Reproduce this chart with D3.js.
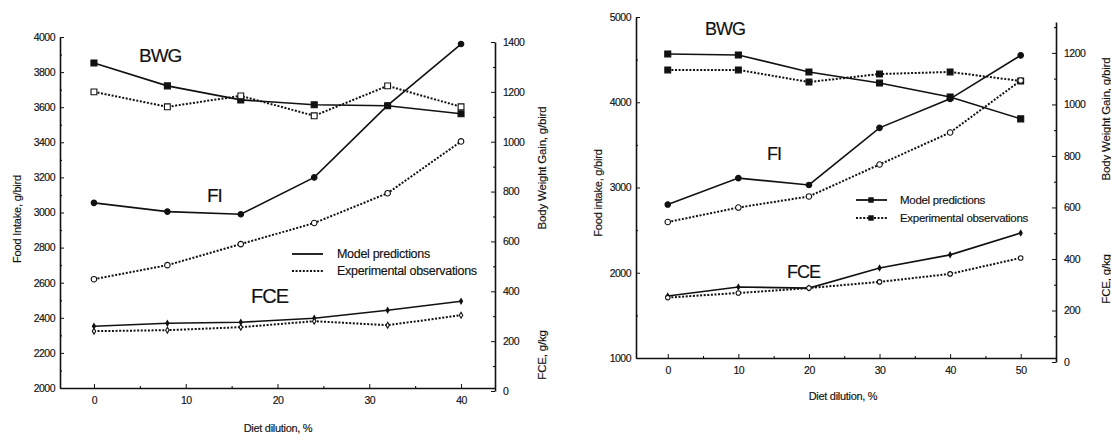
<!DOCTYPE html>
<html>
<head>
<meta charset="utf-8">
<script src="https://cdn.jsdelivr.net/npm/d3@7"></script>
<style>
  body { margin: 0; background: #fff; }
  text { font-family: "Liberation Sans", Arial, sans-serif; fill: #111; stroke: #111; stroke-width: 0.15; }
</style>
</head>
<body>
<div id="chart"></div>
<script>
// left panel: dilution 0-40 %
var dilA = [0, 8, 16, 24, 32, 40];
var bwgModelA = [1316, 1224, 1168, 1148, 1144, 1112];
var bwgExpA = [1200, 1140, 1184, 1104, 1224, 1140];
var fiModelA = [3055, 3005, 2990, 3200, 3610, 3960];
var fiExpA = [2620, 2700, 2820, 2940, 3110, 3405];
var fceModelA = [260, 272, 276, 292, 324, 360];
var fceExpA = [240, 244, 256, 280, 264, 304];

// right panel: dilution 0-50 %
var dilB = [0, 10, 20, 30, 40, 50];
var bwgModelB = [1196, 1192, 1126, 1083, 1029, 944];
var bwgExpB = [1134, 1134, 1087, 1118, 1126, 1091];
var fiModelB = [2800, 3110, 3030, 3700, 4040, 4550];
var fiExpB = [2595, 2765, 2895, 3270, 3645, 4255];
var fceModelB = [256, 291, 287, 365, 416, 501];
var fceExpB = [250, 268, 287, 311, 342, 404];

var xTicksA = [0, 10, 20, 30, 40];
var xTicksB = [0, 10, 20, 30, 40, 50];
var fiTicksA = [2000, 2200, 2400, 2600, 2800, 3000, 3200, 3400, 3600, 3800, 4000];
var fiTicksB = [1000, 2000, 3000, 4000, 5000];
var rightTicksA = [0, 200, 400, 600, 800, 1000, 1200, 1400];
var rightTicksB = [0, 200, 400, 600, 800, 1000, 1200];
var legendLabels = ["Model predictions", "Experimental observations"];

var svg = d3.select('#chart').append('svg')
  .attr('width', 1111)
  .attr('height', 435);

function drawPanel(p) {
  var g = svg.append('g');
  var x = d3.scaleLinear().domain(p.xDomain).range([p.left, p.right]);
  var yL = d3.scaleLinear().domain(p.fiDomain).range(p.fiRange);
  var yR = d3.scaleLinear().domain(p.rDomain).range(p.rRange);

  function minorAxis(axis, ticks) {
    return function(sel) {
      sel.call(axis.tickValues(ticks).tickFormat('').tickSizeInner(-2).tickSizeOuter(0))
        .call(function(s) { s.select('.domain').remove(); });
    };
  }
  function styleAxis(sel) {
    sel.select('.domain').attr('stroke', '#111').attr('stroke-width', 1.6);
    sel.selectAll('.tick line').attr('stroke', '#111').attr('stroke-width', 1);
    sel.selectAll('.tick text').attr('font-size', 10.5).attr('letter-spacing', -0.5)
      .attr('font-family', '"Liberation Sans", Arial, sans-serif').attr('fill', '#111');
  }

  // x axis
  g.append('g').attr('transform', 'translate(0,' + p.fiRange[0] + ')')
    .call(d3.axisBottom(x).tickValues(p.xTicks).tickFormat(d3.format('d'))
      .tickSizeInner(-4).tickSizeOuter(0).tickPadding(p.xPad))
    .call(styleAxis);
  g.append('g').attr('transform', 'translate(0,' + p.fiRange[0] + ')')
    .call(minorAxis(d3.axisBottom(x), p.xMinor));

  // left axis
  g.append('g').attr('transform', 'translate(' + p.left + ',0)')
    .call(d3.axisLeft(yL).tickValues(p.fiTicks).tickFormat(d3.format('d'))
      .tickSizeInner(-4).tickSizeOuter(0).tickPadding(5))
    .call(styleAxis);
  g.append('g').attr('transform', 'translate(' + p.left + ',0)')
    .call(minorAxis(d3.axisLeft(yL), p.fiMinor));

  // right axis
  g.append('g').attr('transform', 'translate(' + p.rightAxis + ',0)')
    .call(d3.axisRight(yR).tickValues(p.rTicks).tickFormat(d3.format('d'))
      .tickSizeInner(-4).tickSizeOuter(0).tickPadding(8))
    .call(styleAxis);
  g.append('g').attr('transform', 'translate(' + p.rightAxis + ',0)')
    .call(minorAxis(d3.axisRight(yR), d3.range(100, p.rDomain[1], 200)));

  var series = [
    { y: yR, v: p.bwgModel, dash: null, sym: d3.symbolSquare, size: 36, fill: '#111' },
    { y: yR, v: p.bwgExp, dash: '2,1.6', sym: d3.symbolSquare, size: 34, fill: p.bwgExpFill },
    { y: yL, v: p.fiModel, dash: null, sym: d3.symbolCircle, size: 24, fill: '#111' },
    { y: yL, v: p.fiExp, dash: '2,1.6', sym: d3.symbolCircle, size: 24, fill: '#fff' },
    { y: yR, v: p.fceModel, dash: null, sym: d3.symbolDiamond, size: 8, fill: '#111' },
    { y: yR, v: p.fceExp, dash: '2,1.6', sym: p.fceExpSym, size: p.fceExpSize, fill: '#fff' }
  ];

  series.forEach(function(s) {
    var pts = p.dil.map(function(d, i) { return [x(d), s.y(s.v[i])]; });
    g.append('path')
      .attr('d', d3.line()(pts))
      .attr('fill', 'none')
      .attr('stroke', '#111')
      .attr('stroke-width', s.dash ? 2 : 1.6)
      .attr('stroke-dasharray', s.dash);
    g.selectAll(null).data(pts).enter().append('path')
      .attr('transform', function(d) { return 'translate(' + d[0] + ',' + d[1] + ')'; })
      .attr('d', d3.symbol().type(s.sym).size(s.size))
      .attr('fill', s.fill)
      .attr('stroke', '#111')
      .attr('stroke-width', 1.1);
  });

  // series names
  p.names.forEach(function(n) {
    g.append('text').attr('x', n.x).attr('y', n.y)
      .attr('font-size', n.size).attr('letter-spacing', -1).text(n.t);
  });

  // legend
  legendLabels.forEach(function(lab, i) {
    var ly = p.legend.y + i * p.legend.dy;
    g.append('line').attr('x1', p.legend.x).attr('x2', p.legend.x + 31)
      .attr('y1', ly).attr('y2', ly)
      .attr('stroke', '#111').attr('stroke-width', i ? 2 : 1.8)
      .attr('stroke-dasharray', i ? '2,1.6' : null);
    if (p.legend.marker) {
      g.append('path').attr('transform', 'translate(' + (p.legend.x + 15) + ',' + ly + ')')
        .attr('d', d3.symbol().type(d3.symbolSquare).size(30)).attr('fill', '#111');
    }
    g.append('text').attr('x', p.legend.x + p.legend.gap).attr('y', ly + 4)
      .attr('font-size', p.legend.size).attr('letter-spacing', -0.3).text(lab);
  });

  // axis titles
  g.append('text').attr('transform', 'translate(' + p.yTitleX + ',' + p.yTitleY + ') rotate(-90)')
    .attr('text-anchor', 'middle').attr('font-size', 11).attr('letter-spacing', -0.2).text(p.yTitle);
  g.append('text').attr('transform', 'translate(' + p.rTitleX + ',' + p.bwgTitleY + ') rotate(-90)')
    .attr('text-anchor', 'middle').attr('font-size', 11.5).attr('letter-spacing', -0.2).text('Body Weight Gain, g/bird');
  g.append('text').attr('transform', 'translate(' + p.rTitleX + ',' + p.fceTitleY + ') rotate(-90)')
    .attr('text-anchor', 'middle').attr('font-size', 11.5).attr('letter-spacing', -0.2).text('FCE, g/kg');
  g.append('text').attr('x', p.xTitleX).attr('y', p.xTitleY)
    .attr('text-anchor', 'middle').attr('font-size', 11).attr('letter-spacing', -0.3).text('Diet dilution, %');
}

drawPanel({
  dil: dilA, bwgModel: bwgModelA, bwgExp: bwgExpA, fiModel: fiModelA, fiExp: fiExpA,
  fceModel: fceModelA, fceExp: fceExpA,
  bwgExpFill: '#fff', fceExpSym: d3.symbolDiamond, fceExpSize: 10,
  xDomain: [-3.7, 43.7], left: 60, right: 495, rightAxis: 495,
  xTicks: xTicksA, xMinor: [5, 15, 25, 35], xPad: 9,
  fiDomain: [2000, 4000], fiRange: [388, 37], fiTicks: fiTicksA,
  fiMinor: d3.range(2100, 4000, 200),
  rDomain: [0, 1400], rRange: [391, 42], rTicks: rightTicksA,
  names: [{ t: 'BWG', x: 139, y: 62, size: 19 }, { t: 'FI', x: 207, y: 202, size: 19 },
          { t: 'FCE', x: 251, y: 303, size: 20 }],
  legend: { x: 292, y: 254, dy: 17, marker: false, gap: 45, size: 12.5 },
  yTitle: 'Food Intake, g/bird', yTitleX: 21, yTitleY: 219,
  rTitleX: 546, bwgTitleY: 168, fceTitleY: 355,
  xTitleX: 278, xTitleY: 432
});

drawPanel({
  dil: dilB, bwgModel: bwgModelB, bwgExp: bwgExpB, fiModel: fiModelB, fiExp: fiExpB,
  fceModel: fceModelB, fceExp: fceExpB,
  bwgExpFill: '#111', fceExpSym: d3.symbolCircle, fceExpSize: 16,
  xDomain: [-4.5, 55], left: 636, right: 1056, rightAxis: 1056,
  xTicks: xTicksB, xMinor: [5, 15, 25, 35, 45], xPad: 9,
  fiDomain: [1000, 5000], fiRange: [358, 17], fiTicks: fiTicksB,
  fiMinor: [1500, 2500, 3500, 4500],
  rDomain: [0, 1320], rRange: [362, 22], rTicks: rightTicksB,
  names: [{ t: 'BWG', x: 705, y: 35, size: 18 }, { t: 'FI', x: 767, y: 160, size: 18 },
          { t: 'FCE', x: 787, y: 278, size: 18 }],
  legend: { x: 856, y: 200, dy: 18, marker: true, gap: 44, size: 11.5 },
  yTitle: 'Food intake, g/bird', yTitleX: 602, yTitleY: 193,
  rTitleX: 1110, bwgTitleY: 119, fceTitleY: 279,
  xTitleX: 843, xTitleY: 400
});
</script>
</body>
</html>
